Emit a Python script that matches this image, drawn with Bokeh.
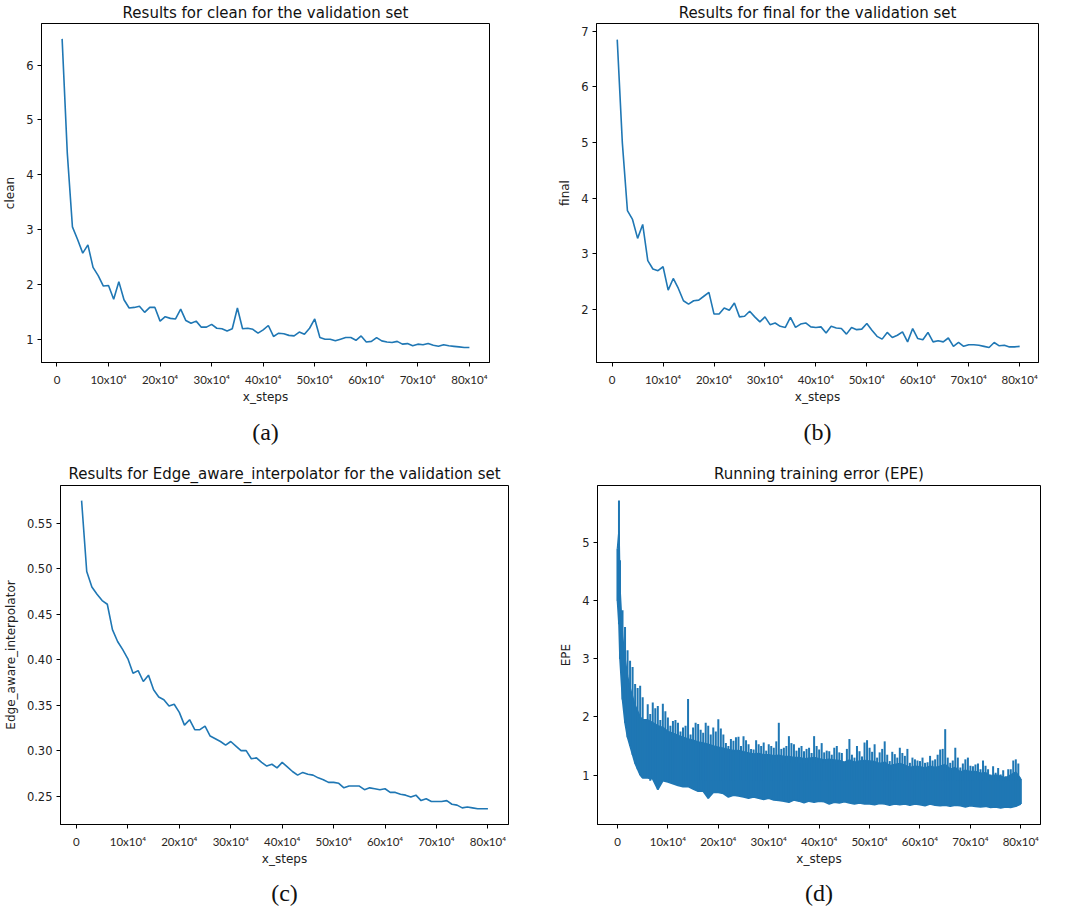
from bokeh.plotting import figure
from bokeh.layouts import column, row
from bokeh.models import FixedTicker, Title, Range1d, PrintfTickFormatter
from bokeh.embed import file_html
from bokeh.resources import INLINE

# ---------------- data ----------------
steps = [k * 10000 for k in range(1, 81)]

clean = [6.48, 4.40, 3.05, 2.82, 2.57, 2.72, 2.31, 2.16, 1.97, 1.98,
         1.73, 2.05, 1.72, 1.57, 1.58, 1.60, 1.49, 1.58, 1.58, 1.33,
         1.41, 1.38, 1.37, 1.55, 1.34, 1.29, 1.33, 1.22, 1.22, 1.27,
         1.20, 1.19, 1.15, 1.19, 1.57, 1.19, 1.20, 1.18, 1.11, 1.17,
         1.25, 1.05, 1.11, 1.10, 1.07, 1.06, 1.13, 1.09, 1.20, 1.37,
         1.03, 1.00, 1.00, 0.97, 1.00, 1.03, 1.03, 0.98, 1.06, 0.95,
         0.96, 1.03, 0.97, 0.95, 0.94, 0.96, 0.91, 0.92, 0.88, 0.91,
         0.90, 0.92, 0.89, 0.87, 0.90, 0.88, 0.87, 0.86, 0.85, 0.85]

final = [6.85, 5.00, 3.78, 3.62, 3.28, 3.53, 2.88, 2.73, 2.70, 2.77,
         2.35, 2.56, 2.38, 2.16, 2.10, 2.16, 2.17, 2.24, 2.31, 1.92,
         1.92, 2.03, 1.99, 2.12, 1.87, 1.88, 1.97, 1.87, 1.78, 1.87,
         1.73, 1.76, 1.70, 1.68, 1.86, 1.68, 1.74, 1.76, 1.69, 1.68,
         1.69, 1.58, 1.70, 1.67, 1.66, 1.56, 1.68, 1.64, 1.65, 1.75,
         1.63, 1.52, 1.47, 1.59, 1.50, 1.54, 1.60, 1.42, 1.66, 1.48,
         1.46, 1.59, 1.42, 1.44, 1.42, 1.49, 1.34, 1.41, 1.34, 1.37,
         1.37, 1.36, 1.34, 1.32, 1.41, 1.35, 1.36, 1.33, 1.33, 1.34]

edge = [0.575, 0.497, 0.480, 0.472, 0.465, 0.461, 0.433, 0.420, 0.411, 0.401,
        0.385, 0.388, 0.376, 0.383, 0.367, 0.359, 0.356, 0.349, 0.351, 0.342,
        0.328, 0.334, 0.323, 0.323, 0.327, 0.316, 0.313, 0.310, 0.306, 0.310,
        0.305, 0.300, 0.300, 0.291, 0.292, 0.287, 0.283, 0.285, 0.281, 0.287,
        0.282, 0.277, 0.273, 0.276, 0.274, 0.273, 0.270, 0.268, 0.265, 0.265,
        0.264, 0.259, 0.261, 0.261, 0.261, 0.257, 0.259, 0.258, 0.257, 0.258,
        0.254, 0.254, 0.252, 0.251, 0.249, 0.251, 0.245, 0.247, 0.244, 0.244,
        0.244, 0.245, 0.241, 0.240, 0.237, 0.238, 0.237, 0.236, 0.236, 0.236]

# running training error: band (spike tops, dense body top, band bottom)
epe_steps = [0, 3000, 5000, 10000, 15000, 20000, 25000, 30000, 35000, 40000,
             45000, 50000] + [k * 10000 for k in range(6, 81)]

epe_upper = [4.90, 5.73, 4.70, 3.84, 3.55, 3.15, 2.97, 2.86, 2.57, 2.50, 2.54, 2.34,
             2.22, 2.25, 2.19, 2.23, 1.99, 1.93, 1.90, 1.82, 2.31, 1.82,
             1.88, 1.73, 1.85, 1.82, 1.96, 1.70, 1.50, 1.59, 1.66, 1.67,
             1.53, 1.44, 1.53, 1.56, 1.53, 1.47, 1.90, 1.47, 1.67, 1.53,
             1.47, 1.41, 1.47, 1.67, 1.44, 1.39, 1.41, 1.47, 1.39, 1.21,
             1.62, 1.30, 1.41, 1.56, 1.47, 1.53, 1.39, 1.58, 1.24, 1.36,
             1.47, 1.33, 1.21, 1.27, 1.24, 1.21, 1.33, 1.27, 1.44, 1.79,
             1.21, 1.47, 1.13, 1.27, 1.16, 1.18, 1.10, 1.16, 1.01, 1.04,
             1.01, 0.98, 1.10, 1.27, 0.93]

epe_body = [4.90, 5.20, 4.20, 3.40, 3.00, 2.70, 2.50, 2.35, 2.20, 2.10, 2.00, 1.95,
            1.95, 1.90, 1.85, 1.82, 1.75, 1.72, 1.68, 1.65, 1.62, 1.60,
            1.57, 1.55, 1.53, 1.50, 1.48, 1.46, 1.44, 1.42, 1.42, 1.40,
            1.38, 1.36, 1.37, 1.35, 1.35, 1.33, 1.34, 1.32, 1.32, 1.30,
            1.30, 1.28, 1.29, 1.30, 1.28, 1.26, 1.27, 1.26, 1.25, 1.22,
            1.26, 1.22, 1.24, 1.25, 1.24, 1.23, 1.20, 1.22, 1.16, 1.18,
            1.20, 1.17, 1.13, 1.15, 1.14, 1.12, 1.15, 1.13, 1.15, 1.18,
            1.10, 1.13, 1.05, 1.08, 1.06, 1.06, 1.03, 1.04, 0.98, 1.00,
            0.98, 0.95, 1.00, 1.05, 0.93]

epe_lower = [4.00, 3.60, 3.00, 2.30, 1.90, 1.65, 1.50, 1.35, 1.20, 1.10, 1.00, 0.95,
             0.95, 0.93, 0.75, 0.90, 0.88, 0.85, 0.82, 0.80, 0.80, 0.76,
             0.72, 0.72, 0.60, 0.70, 0.70, 0.68, 0.62, 0.65, 0.64, 0.62,
             0.60, 0.62, 0.60, 0.58, 0.60, 0.57, 0.56, 0.55, 0.53, 0.57,
             0.55, 0.52, 0.55, 0.53, 0.55, 0.54, 0.50, 0.53, 0.52, 0.54,
             0.52, 0.50, 0.52, 0.50, 0.50, 0.49, 0.51, 0.50, 0.48, 0.50,
             0.49, 0.50, 0.48, 0.50, 0.49, 0.47, 0.50, 0.48, 0.47, 0.48,
             0.46, 0.48, 0.47, 0.45, 0.47, 0.46, 0.45, 0.46, 0.44, 0.45,
             0.43, 0.45, 0.44, 0.46, 0.50]

# spike tops between the sampled steps above (at 6.5e4, 7.5e4, ... 79.5e4)
epe_mid_steps = [k * 10000 + 5000 for k in range(6, 80)]
epe_mid_upper = [2.05, 2.15, 1.95, 2.10, 1.85, 1.95, 1.75, 1.85, 1.70, 1.90,
                 1.78, 1.90, 1.70, 1.75, 1.80, 1.55, 1.62, 1.65, 1.50, 1.60,
                 1.45, 1.60, 1.50, 1.42, 1.50, 1.58, 1.45, 1.50, 1.55, 1.42,
                 1.50, 1.45, 1.38, 1.50, 1.55, 1.42, 1.35, 1.50, 1.38, 1.45,
                 1.35, 1.50, 1.32, 1.60, 1.40, 1.30, 1.45, 1.35, 1.40, 1.30,
                 1.38, 1.45, 1.30, 1.25, 1.30, 1.22, 1.25, 1.35, 1.45, 1.30,
                 1.25, 1.30, 1.20, 1.30, 1.15, 1.20, 1.25, 1.10, 1.15, 1.12,
                 1.08, 1.10, 1.25, 1.20]

x_ticks = [0, 100000, 200000, 300000, 400000, 500000, 600000, 700000, 800000]
x_tick_labels = ["0", "10x10\u2074", "20x10\u2074", "30x10\u2074", "40x10\u2074",
                 "50x10\u2074", "60x10\u2074", "70x10\u2074", "80x10\u2074"]

clean_yticks = [1, 2, 3, 4, 5, 6]
final_yticks = [2, 3, 4, 5, 6, 7]
edge_yticks = [0.25, 0.30, 0.35, 0.40, 0.45, 0.50, 0.55]
epe_yticks = [1, 2, 3, 4, 5]

titles = ["Results for clean for the validation set",
          "Results for final for the validation set",
          "Results for Edge_aware_interpolator for the validation set",
          "Running training error (EPE)"]
ylabels = ["clean", "final", "Edge_aware_interpolator", "EPE"]
captions = ["(a)", "(b)", "(c)", "(d)"]

BLUE = "#1f77b4"


def make_fig(title, ylabel, caption, yticks, yfmt, xr, yr,
             fw, fh, bl, br, bt, bb, tstand, cstand):
    p = figure(frame_width=fw, frame_height=fh,
               min_border_left=bl, min_border_right=br,
               min_border_top=bt, min_border_bottom=bb,
               x_range=Range1d(*xr), y_range=Range1d(*yr),
               output_backend="svg", toolbar_location=None,
               background_fill_color="white", border_fill_color="white")
    p.title.text = title
    p.title.text_font = "DejaVu Sans"
    p.title.text_font_size = "15px"
    p.title.text_font_style = "normal"
    p.title.text_color = "#111111"
    p.title.align = "center"
    p.title.standoff = tstand
    p.grid.visible = False
    p.outline_line_color = "black"
    p.outline_line_width = 1
    p.outline_line_alpha = 1.0

    xa = p.xaxis[0]
    xa.ticker = FixedTicker(ticks=x_ticks)
    xa.major_label_overrides = {t: l for t, l in zip(x_ticks, x_tick_labels)}
    xa.major_label_text_font = "Lato"
    xa.major_label_text_font_size = "11.5px"
    xa.major_label_text_color = "#2a2622"
    xa.axis_label = "x_steps"
    xa.axis_label_text_font = "DejaVu Sans"
    xa.axis_label_text_font_size = "12px"
    xa.axis_label_text_font_style = "normal"
    xa.axis_label_text_color = "#222222"
    xa.axis_label_standoff = 1
    xa.major_label_standoff = 6

    ya = p.yaxis[0]
    ya.ticker = FixedTicker(ticks=yticks)
    ya.formatter = PrintfTickFormatter(format=yfmt)
    ya.major_label_text_font = "DejaVu Sans"
    ya.major_label_text_font_size = "11.5px"
    ya.major_label_text_color = "#222222"
    ya.axis_label = ylabel
    ya.axis_label_text_font = "DejaVu Sans"
    ya.axis_label_text_font_size = "12px"
    ya.axis_label_text_font_style = "normal"
    ya.axis_label_text_color = "#222222"
    ya.axis_label_standoff = 6
    ya.major_label_standoff = 4

    for ax in (xa, ya):
        ax.major_tick_out = 4
        ax.major_tick_in = 0
        ax.minor_tick_out = 0
        ax.minor_tick_in = 0
        ax.axis_line_color = "black"
        ax.major_tick_line_color = "black"

    cap = Title(text=caption, align="center", text_font="Liberation Serif",
                text_font_size="24px", text_font_style="normal",
                text_color="#111111", standoff=cstand)
    p.add_layout(cap, "below")
    return p


pa = make_fig(titles[0], ylabels[0], captions[0], clean_yticks, "%d",
              (-30000, 839000), (0.575, 6.76), 448, 339, 37, 39, 23, 88, 3, 21)
pa.line(steps, clean, line_color=BLUE, line_width=1.6)

pb = make_fig(titles[1], ylabels[1], captions[1], final_yticks, "%d",
              (-30700, 837000), (1.05, 7.14), 442, 339, 68, 21, 23, 88, 3, 21)
pb.line(steps, final, line_color=BLUE, line_width=1.6)

pc = make_fig(titles[2], ylabels[2], captions[2], edge_yticks, "%.2f",
              (-31000, 840000), (0.2187, 0.5916), 448, 339, 55, 21, 30, 86, 6, 18)
pc.line(steps, edge, line_color=BLUE, line_width=1.6)

pd = make_fig(titles[3], ylabels[3], captions[3], epe_yticks, "%d",
              (-39600, 839000), (0.147, 5.99), 443, 339, 68, 20, 30, 86, 6, 18)
pd.varea(x=epe_steps, y1=epe_lower, y2=epe_body, fill_color=BLUE, fill_alpha=1.0)
pd.segment(x0=epe_steps, y0=epe_lower, x1=epe_steps, y1=epe_upper,
           line_color=BLUE, line_width=2)
pd.segment(x0=epe_mid_steps, y0=[0.9] * len(epe_mid_steps), x1=epe_mid_steps,
           y1=epe_mid_upper, line_color=BLUE, line_width=2)
pd.line(epe_steps, epe_lower, line_color=BLUE, line_width=1.6)
pd.line(epe_steps, epe_body, line_color=BLUE, line_width=1.6)

layout = column(row(pa, pb), row(pc, pd))

open("out.html", "w").write(file_html(layout, INLINE))
